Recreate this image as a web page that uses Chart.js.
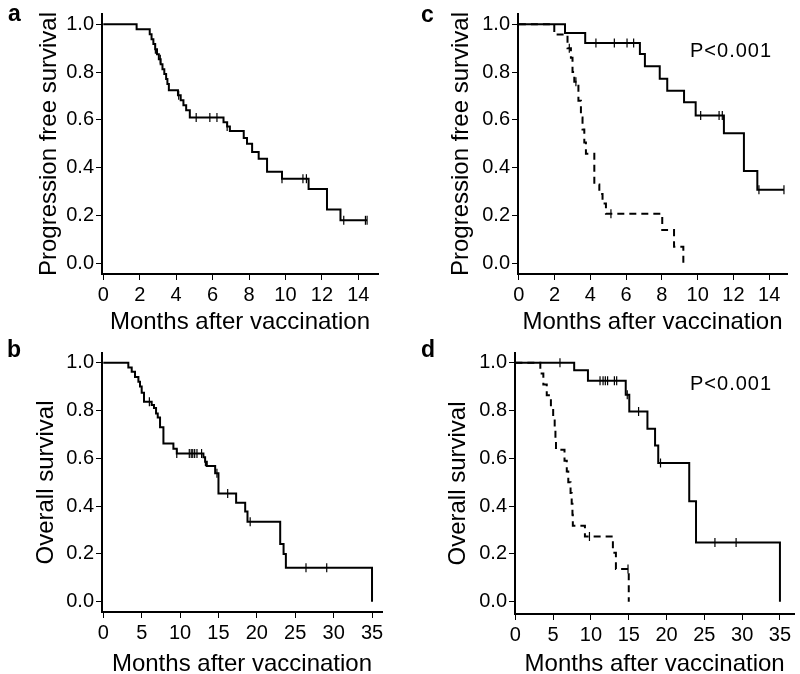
<!DOCTYPE html>
<html>
<head>
<meta charset="utf-8">
<script src="https://cdn.jsdelivr.net/npm/chart.js@4"></script>
<style>
  html, body { margin: 0; padding: 0; background: #fff; }
  body { width: 800px; height: 674px; position: relative; overflow: hidden; }
  canvas { position: absolute; }
  .lbl { position: absolute; font: bold 23px "Liberation Sans", Arial, sans-serif; line-height: 23px; color: #000; }
  .pval { position: absolute; font: 20px "Liberation Sans", Arial, sans-serif; line-height: 20px; letter-spacing: 1px; color: #000; }
</style>
</head>
<body>
<canvas id="chartA" width="400" height="337" style="left:0;top:0"></canvas>
<canvas id="chartC" width="400" height="337" style="left:400px;top:0"></canvas>
<canvas id="chartB" width="400" height="342" style="left:0;top:337px"></canvas>
<canvas id="chartD" width="400" height="342" style="left:400px;top:337px"></canvas>
<div class="lbl" style="left:8px;top:2px">a</div>
<div class="lbl" style="left:421px;top:3px">c</div>
<div class="lbl" style="left:7px;top:338px">b</div>
<div class="lbl" style="left:421px;top:338px">d</div>
<div class="pval" style="left:690px;top:40px">P&lt;0.001</div>
<div class="pval" style="left:690px;top:373px">P&lt;0.001</div>
<script>
// tick labels
const yTicks = [0, 0.2, 0.4, 0.6, 0.8, 1.0];
const pfsXTicks = [0, 2, 4, 6, 8, 10, 12, 14];
const osXTicks = [0, 5, 10, 15, 20, 25, 30, 35];
const xTitle = 'Months after vaccination';
const pfsTitle = 'Progression free survival';
const osTitle = 'Overall survival';

// a: progression free survival, all patients
const aTimes = [0, 1.83, 2.55, 2.65, 2.75, 2.85, 2.95, 3.05, 3.15, 3.25, 3.35, 3.45, 3.52, 3.6, 4.1, 4.25, 4.4, 4.55, 4.75, 6.6, 6.8, 6.95, 7.71, 7.89, 8.17, 8.53, 8.99, 9.81, 11.27, 12.28, 13.02, 14.48];
const aSurv  = [1, 0.979, 0.958, 0.937, 0.917, 0.896, 0.875, 0.854, 0.833, 0.812, 0.792, 0.771, 0.75, 0.724, 0.703, 0.682, 0.661, 0.64, 0.61, 0.59, 0.572, 0.554, 0.524, 0.5, 0.466, 0.438, 0.383, 0.354, 0.311, 0.225, 0.18, 0.18];
const aCensor = [2.86, 3.13, 4.14, 5.1, 5.85, 6.24, 6.8, 9.81, 10.96, 11.15, 13.2, 14.39, 14.48];

// b: overall survival, all patients
const bTimes = [0, 3.26, 3.7, 4.13, 4.57, 4.78, 5.0, 5.3, 6.3, 6.6, 6.87, 7.09, 7.39, 7.83, 9.13, 9.57, 13.04, 13.26, 13.48, 14.57, 15.0, 17.3, 18.48, 18.78, 23.04, 23.48, 23.78, 35.0];
const bSurv  = [1, 0.98, 0.962, 0.94, 0.92, 0.9, 0.874, 0.837, 0.823, 0.81, 0.788, 0.771, 0.73, 0.662, 0.64, 0.62, 0.604, 0.586, 0.568, 0.537, 0.453, 0.414, 0.377, 0.335, 0.241, 0.2, 0.142, 0];
const bCensor = [6.0, 9.57, 11.2, 11.45, 11.65, 11.9, 12.2, 12.8, 13.3, 14.8, 16.2, 19.13, 26.4, 29.1];

// c: progression free survival by group
const cSolidTimes = [0, 2.58, 3.71, 6.77, 7.05, 7.88, 8.3, 9.24, 9.89, 11.47, 12.59, 13.34, 14.83];
const cSolidSurv  = [1, 0.963, 0.922, 0.876, 0.824, 0.772, 0.722, 0.674, 0.618, 0.544, 0.386, 0.308, 0.308];
const cSolidCensor = [4.31, 5.34, 6.05, 6.42, 10.17, 11.2, 11.38, 13.43, 14.83];
const cDashTimes = [0, 1.98, 2.72, 2.91, 3.0, 3.1, 3.33, 3.47, 3.56, 3.66, 3.75, 4.22, 4.5, 4.68, 4.87, 8.02, 8.68, 9.2];
const cDashSurv  = [1, 0.957, 0.9, 0.86, 0.8, 0.76, 0.68, 0.61, 0.56, 0.505, 0.458, 0.33, 0.29, 0.25, 0.207, 0.139, 0.069, 0];
const cDashCensor = [2.82, 3.19, 5.15];

// d: overall survival by group
const dSolidTimes = [0, 7.78, 9.6, 14.6, 15.07, 17.47, 18.48, 18.9, 23.0, 23.9, 35.0];
const dSolidSurv  = [1, 0.968, 0.925, 0.866, 0.796, 0.724, 0.654, 0.58, 0.42, 0.248, 0];
const dSolidCensor = [5.9, 11.2, 11.6, 11.9, 12.2, 13.1, 13.4, 14.8, 16.3, 19.2, 26.4, 29.2];
const dDashTimes = [0, 3.3, 3.7, 4.15, 4.7, 5.0, 5.2, 5.3, 5.37, 6.5, 6.8, 7.0, 7.3, 7.45, 7.55, 7.6, 9.2, 12.9, 13.3, 15.0];
const dDashSurv  = [1, 0.955, 0.909, 0.864, 0.818, 0.773, 0.727, 0.682, 0.636, 0.59, 0.545, 0.5, 0.455, 0.41, 0.364, 0.318, 0.273, 0.205, 0.137, 0];
const dDashCensor = [9.8, 14.9];

function stepPoints(times, surv) {
    return times.map((t, i) => ({ x: t, y: surv[i] }));
}

// censor ticks sit on the curve at their time
function censorPoints(times, surv, cens) {
    return cens.map(c => {
        let v = surv[0];
        for (let i = 0; i < times.length; i++) {
            if (times[i] <= c) v = surv[i];
        }
        return { x: c, y: v };
    });
}

function curve(times, surv, dashed) {
    return {
        type: 'line',
        data: stepPoints(times, surv),
        stepped: 'before',   // flat at old value, then drop at the event time
        borderColor: '#000',
        borderWidth: 2,
        borderDash: dashed ? [7, 5] : [],
        pointRadius: 0,
        fill: false
    };
}

function ticks(times, surv, cens) {
    return {
        type: 'line',
        data: censorPoints(times, surv, cens),
        showLine: false,
        pointStyle: 'line',
        pointRotation: 90,
        pointRadius: 4.5,
        pointBorderWidth: 1.2,
        pointBorderColor: '#000',
        pointBackgroundColor: '#000'
    };
}

const tickFont = { family: '"Liberation Sans", Arial, sans-serif', size: 20 };
const titleFont = { family: '"Liberation Sans", Arial, sans-serif', size: 24 };

function makeChart(id, datasets, p) {
    new Chart(document.getElementById(id), {
        type: 'line',
        data: { datasets: datasets },
        options: {
            responsive: false,
            animation: false,
            events: [],
            layout: { padding: { top: p.padTop, right: p.padRight, bottom: 0, left: 0 } },
            plugins: { legend: { display: false }, tooltip: { enabled: false } },
            scales: {
                x: {
                    type: 'linear',
                    min: p.xMin, max: p.xMax,
                    afterBuildTicks: s => { s.ticks = p.xTicks.map(v => ({ value: v })); },
                    afterFit: s => { s.height = p.xh; },
                    ticks: { color: '#000', font: tickFont, padding: 3, maxRotation: 0, callback: v => String(v) },
                    grid: { drawOnChartArea: false, drawTicks: true, tickLength: 6, color: '#000', lineWidth: 1 },
                    border: { display: true, color: '#000', width: 2 },
                    title: { display: true, text: xTitle, color: '#000', font: titleFont, padding: { top: 0, bottom: 0 } }
                },
                y: {
                    min: p.yMin, max: p.yMax,
                    afterBuildTicks: s => { s.ticks = yTicks.map(v => ({ value: v })); },
                    afterFit: s => { s.width = p.yw; },
                    ticks: { color: '#000', font: tickFont, padding: 2, callback: v => v.toFixed(1) },
                    grid: { drawOnChartArea: false, drawTicks: true, tickLength: 6, color: '#000', lineWidth: 1 },
                    border: { display: true, color: '#000', width: 2 },
                    title: { display: true, text: p.yTitle, color: '#000', font: titleFont, padding: { top: p.yTitlePad, bottom: 0 } }
                }
            }
        }
    });
}

makeChart('chartA', [
    curve(aTimes, aSurv, false),
    ticks(aTimes, aSurv, aCensor)
], { xTicks: pfsXTicks, xMin: -0.07, xMax: 15.08, yMin: -0.0446, yMax: 1.043, yw: 102, xh: 63, padTop: 13, padRight: 22, yTitle: pfsTitle, yTitlePad: 35 });

makeChart('chartC', [
    curve(cSolidTimes, cSolidSurv, false),
    ticks(cSolidTimes, cSolidSurv, cSolidCensor),
    curve(cDashTimes, cDashSurv, true),
    ticks(cDashTimes, cDashSurv, cDashCensor)
], { xTicks: pfsXTicks, xMin: -0.05, xMax: 15.0, yMin: -0.0446, yMax: 1.043, yw: 118, xh: 63, padTop: 13, padRight: 13, yTitle: pfsTitle, yTitlePad: 47 });

makeChart('chartB', [
    curve(bTimes, bSurv, false),
    ticks(bTimes, bSurv, bCensor)
], { xTicks: osXTicks, xMin: -0.17, xMax: 36.3, yMin: -0.043, yMax: 1.0406, yw: 102, xh: 67, padTop: 16, padRight: 18, yTitle: osTitle, yTitlePad: 32 });

makeChart('chartD', [
    curve(dSolidTimes, dSolidSurv, false),
    ticks(dSolidTimes, dSolidSurv, dSolidCensor),
    curve(dDashTimes, dDashSurv, true),
    ticks(dDashTimes, dDashSurv, dDashCensor)
], { xTicks: osXTicks, xMin: -0.05, xMax: 36.9, yMin: -0.0515, yMax: 1.0406, yw: 115, xh: 65, padTop: 16, padRight: 3, yTitle: osTitle, yTitlePad: 44 });
</script>
</body>
</html>
